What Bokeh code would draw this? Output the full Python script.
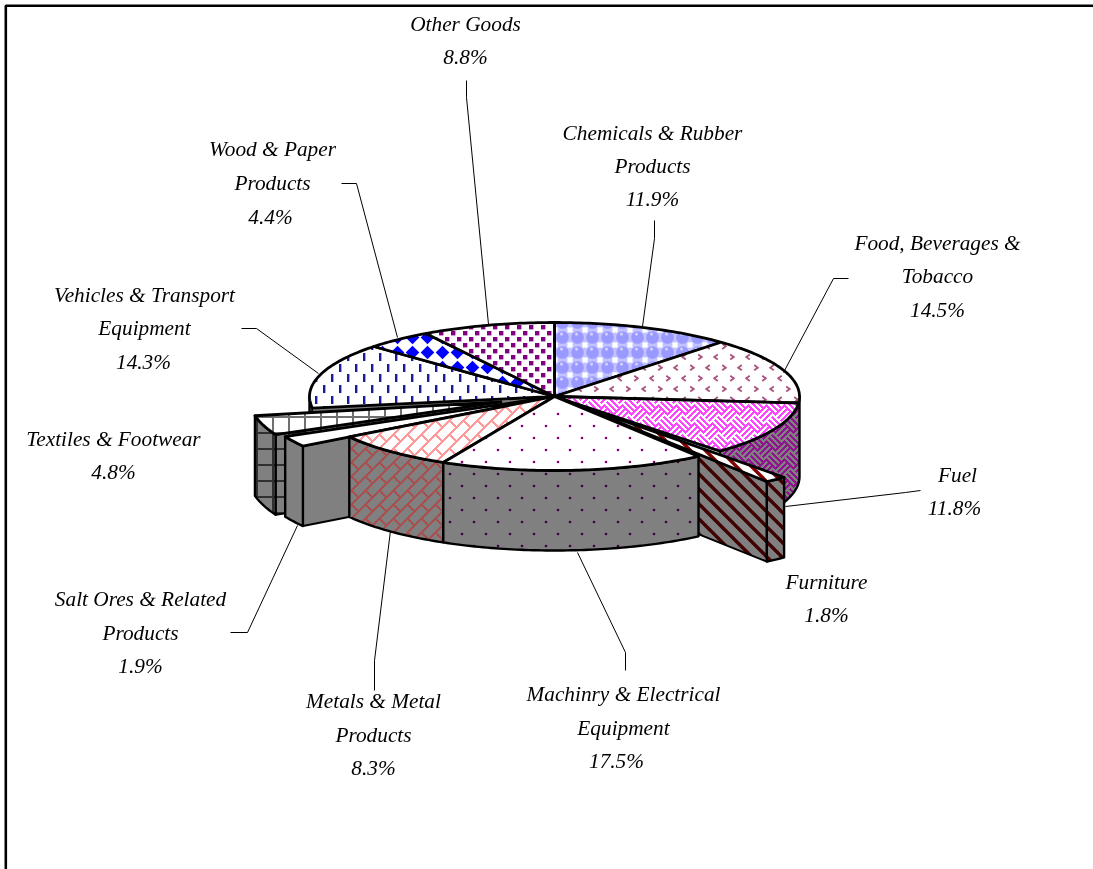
import numpy as np
from bokeh.plotting import figure
from bokeh.models import Range1d, CanvasTexture
from bokeh.core.properties import value
from bokeh.embed import file_html
from bokeh.resources import INLINE

# ---- data ----
categories = ["Chemicals & Rubber Products", "Food, Beverages & Tobacco", "Fuel", "Furniture",
              "Machinry & Electrical Equipment", "Metals & Metal Products",
              "Salt Ores & Related Products", "Textiles & Footwear",
              "Vehicles & Transport Equipment", "Wood & Paper Products", "Other Goods"]
shares = [11.9, 14.5, 11.8, 1.8, 17.5, 8.3, 1.9, 4.8, 14.3, 4.4, 8.8]

# ---- layout ----
W, H = 1093, 869
CX, CY, RX, RY, DEPTH = 554.0, 396.0, 245.0, 74.0, 80.0
GRAY = "#808080"

label_lines = [
    ("Other Goods", 465, 23), ("8.8%", 465, 56),
    ("Chemicals & Rubber", 652, 132), ("Products", 652, 165), ("11.9%", 652, 198),
    ("Food, Beverages &", 937, 242), ("Tobacco", 937, 275), ("14.5%", 937, 309),
    ("Fuel", 957, 474), ("11.8%", 954, 507),
    ("Furniture", 826, 581), ("1.8%", 826, 614),
    ("Machinry & Electrical", 623, 693), ("Equipment", 623, 727), ("17.5%", 616, 760),
    ("Metals & Metal", 373, 700), ("Products", 373, 734), ("8.3%", 373, 767),
    ("Salt Ores & Related", 140, 598), ("Products", 140, 632), ("1.9%", 140, 665),
    ("Textiles & Footwear", 113, 438), ("4.8%", 113, 471),
    ("Vehicles & Transport", 144, 294), ("Equipment", 144, 327), ("14.3%", 143, 361),
    ("Wood & Paper", 272, 148), ("Products", 272, 182), ("4.4%", 270, 216),
]
leaders = [
    ([466, 466, 488], [80, 97, 324]),
    ([654, 654, 642], [220, 238, 326]),
    ([848, 833, 783], [278, 278, 372]),
    ([920, 905, 785], [490, 492, 506]),
    ([230, 247, 297], [632, 632, 525]),
    ([374, 374, 390], [690, 660, 530]),
    ([625, 625, 577], [670, 652, 552]),
    ([241, 256, 318], [328, 328, 373]),
    ([341, 356, 397], [183, 183, 337]),
]

# ---- hatch tiles ----
T_BUBBLE = """
const s=scale; ctx.fillStyle=color; ctx.globalAlpha=0.6; ctx.fillRect(0,0,s,s); ctx.globalAlpha=1;
ctx.fillStyle='#fff';
for (const [x,y] of [[0,0],[s,0],[0,s],[s,s]]) ctx.fillRect(x-2.6,y-2.6,5.2,5.2);
ctx.fillStyle=color; ctx.beginPath(); ctx.arc(s/2,s/2,6.3,0,2*Math.PI); ctx.fill();
ctx.fillStyle='#fff'; ctx.globalAlpha=0.55; ctx.beginPath(); ctx.arc(s/2-1,s/2-3.4,1.6,0,2*Math.PI); ctx.fill();
"""
T_CHEVRON = """
ctx.strokeStyle=color; ctx.lineWidth=1.8;
for (let r=0;r<6;r++){ const y=5+r*64/6;
  for (let c=0;c<4;c++){ const x=(r%2?8:0)+4+16*c; const d=c%2?1:-1;
    ctx.beginPath(); ctx.moveTo(x-d*1.8,y-2.6); ctx.lineTo(x+d*1.8,y); ctx.lineTo(x-d*1.8,y+2.6); ctx.stroke(); } }
"""
T_WEAVE = """
ctx.fillStyle=color; const s=scale;
for (let x=0;x<s;x++) for (let y=0;y<s;y++){ const u=x+y+s, v=x-y+s;
  const i=Math.floor(u/18), j=Math.floor(v/18);
  const on=((i+j)%2==0)?(u%6<3):(v%6<3);
  if(on) ctx.fillRect(x,y,1,1); }
"""
T_STRIPE = """
const s=scale; ctx.strokeStyle=color; ctx.lineWidth=3.4;
for (const o of [-s,0,s]){ ctx.beginPath(); ctx.moveTo(o-2,-2); ctx.lineTo(o+s+2,s+2); ctx.stroke(); }
"""
T_DOT = """
const s=scale; ctx.fillStyle=color;
ctx.beginPath(); ctx.arc(s/4,s/4,1.3,0,2*Math.PI); ctx.fill();
ctx.beginPath(); ctx.arc(3*s/4,3*s/4,1.3,0,2*Math.PI); ctx.fill();
"""
T_BRICK = """
ctx.fillStyle=color; const s=scale;
for (let x=0;x<s;x++) for (let y=0;y<s;y++){ const u=x+y+s, v=x-y+s;
  const k=Math.floor(u/14);
  const on=(u%14<3)||((v+14*(k%2))%28<3);
  if(on) ctx.fillRect(x,y,1,1); }
"""
T_GRID = """
const s=scale; ctx.fillStyle=color; ctx.fillRect(0,0,2,s); ctx.fillRect(0,0,s,2);
"""
T_DASH = """
ctx.fillStyle=color;
for (let r=0;r<6;r++) for (let c=0;c<4;c++) ctx.fillRect((r%2?8:0)+3+16*c, Math.round(1+r*64/6), 2.4, 8);
"""
T_DIAMOND = """
const s=scale; ctx.fillStyle=color; ctx.beginPath();
ctx.moveTo(s/2,s/2-6.8); ctx.lineTo(s/2+6.8,s/2); ctx.lineTo(s/2,s/2+6.8); ctx.lineTo(s/2-6.8,s/2); ctx.closePath(); ctx.fill();
"""
T_SQUARE = """
ctx.fillStyle=color;
for (let a=0;a<2;a++) for (let b=0;b<2;b++){ ctx.fillRect(1+12*a,1+12*b,4.4,4.4); ctx.fillRect(7+12*a,7+12*b,4.4,4.4); }
"""

# tile code, tile size, colour on the top face, colour on the side
hatch = {
    "Chemicals & Rubber Products": (T_BUBBLE, 15, "#9999FF", "#4C4C80"),
    "Food, Beverages & Tobacco": (T_CHEVRON, 64, "#A85480", "#602A48"),
    "Fuel": (T_WEAVE, 36, "#FF44FF", "#8F128F"),
    "Furniture": (T_STRIPE, 15, "#800000", "#400000"),
    "Machinry & Electrical Equipment": (T_DOT, 24, "#800080", "#400040"),
    "Metals & Metal Products": (T_BRICK, 28, "#FF9999", "#A85050"),
    "Salt Ores & Related Products": None,
    "Textiles & Footwear": (T_GRID, 16, "#707070", "#303030"),
    "Vehicles & Transport Equipment": (T_DASH, 64, "#1A1A99", "#000060"),
    "Wood & Paper Products": (T_DIAMOND, 15, "#0000FF", "#000080"),
    "Other Goods": (T_SQUARE, 24, "#800080", "#400040"),
}

# outer radius factor, apex shift, angular span actually drawn for pulled-out slices
pulled = {
    "Furniture": dict(k=1.44, a=0.02, span=(139.4, 143.0)),
    "Salt Ores & Related Products": dict(k=1.226, a=0.0, span=None),
    "Textiles & Footwear": dict(k=1.25, a=0.23, span=(245.6, 258.0)),
}

edges = np.cumsum([0.0] + shares) / sum(shares) * 360.0
spans = {c: (edges[i], edges[i + 1]) for i, c in enumerate(categories)}


def pt(t, k=1.0):
    r = np.radians(t)
    return CX + k * RX * np.sin(r), CY - k * RY * np.cos(r)


def arc(t0, t1, k=1.0):
    ts = np.linspace(t0, t1, max(3, int(abs(t1 - t0)) + 2))
    return pt(ts, k)


p = figure(width=W, height=H, output_backend="svg", toolbar_location=None,
           x_range=Range1d(0, W), y_range=Range1d(H, 0), min_border=0,
           outline_line_color=None, background_fill_color="white",
           border_fill_color="white",
           styles={"position": "fixed", "left": "0px", "top": "0px"})
p.axis.visible = False
p.grid.visible = False


def face(xs, ys, cat=None, side=False, lw=2.8):
    kw = dict(fill_color=GRAY if side else "white", line_color="black",
              line_width=lw, line_join="round")
    spec = hatch.get(cat)
    if spec is not None:
        code, size, top_c, side_c = spec
        # the tile's own canvas is sized here, from the tile size of the table above
        full = f"scale={size}; ctx.canvas.width=scale; ctx.canvas.height=scale;\n" + code
        kw.update(hatch_pattern="tile",
                  hatch_extra={"tile": CanvasTexture(code=full)},
                  hatch_scale=size, hatch_color=side_c if side else top_c)
    p.patch([float(v) for v in xs], [float(v) for v in ys], **kw)


def top(cat, apex=(CX, CY), k=1.0, span=None):
    t0, t1 = span or spans[cat]
    x, y = arc(t0, t1, k)
    face(np.r_[apex[0], x], np.r_[apex[1], y], cat)


def rim(cat, t0, t1, k=1.0):
    x, y = arc(t0, t1, k)
    face(np.r_[x, x[::-1]], np.r_[y, (y + DEPTH)[::-1]], cat, side=True, lw=2.4)


def wall(cat, apex, t, k):
    x, y = pt(t, k)
    face([x, apex[0], apex[0], x], [y, apex[1], apex[1] + DEPTH, y + DEPTH], cat, side=True, lw=2)


# back part of the body
rim("Fuel", 90.0, spans["Fuel"][1])
rim("Vehicles & Transport Equipment", spans["Vehicles & Transport Equipment"][0], 270.0)
vx, vy = pt(spans["Vehicles & Transport Equipment"][0])
face([CX, vx, vx, CX], [CY, vy, vy + DEPTH, CY + DEPTH], side=True, lw=1)

for c in ["Chemicals & Rubber Products", "Food, Beverages & Tobacco", "Fuel",
          "Vehicles & Transport Equipment", "Wood & Paper Products", "Other Goods"]:
    top(c)


def exploded(cat):
    d = pulled[cat]
    t0, t1 = d["span"] or spans[cat]
    tm = (t0 + t1) / 2
    ax, ay = pt(tm, d["a"]) if d["a"] else (CX, CY)
    return d, t0, t1, (ax, ay)


# textiles, then salt
d, t0, t1, ap = exploded("Textiles & Footwear")
wall("Textiles & Footwear", ap, t0, d["k"])
rim("Textiles & Footwear", t0, t1, d["k"])
top("Textiles & Footwear", ap, d["k"], (t0, t1))

d, t0, t1, ap = exploded("Salt Ores & Related Products")
wall("Salt Ores & Related Products", ap, t0, d["k"])
rim("Salt Ores & Related Products", t0, t1, d["k"])
top("Salt Ores & Related Products", ap, d["k"], (t0, t1))

# furniture
d, t0, t1, ap = exploded("Furniture")
wall("Furniture", ap, t1, d["k"])
rim("Furniture", t0, t1, d["k"])
top("Furniture", ap, d["k"], (t0, t1))

# front of the body
for c in ["Metals & Metal Products", "Machinry & Electrical Equipment"]:
    rim(c, *spans[c])
for c in ["Metals & Metal Products", "Machinry & Electrical Equipment"]:
    top(c)

# leaders
for xs, ys in leaders:
    p.line(xs, ys, line_color="black", line_width=1)

# frame of the picture
p.line([5.3, 5.3, W], [H, 5.3, 5.3], line_color="black", line_width=2.6)

p.text([l[1] for l in label_lines], [l[2] for l in label_lines], text=[l[0] for l in label_lines],
       text_font=value("Liberation Serif"), text_font_style="italic", text_font_size="21.3px",
       text_color="black", text_align="center", text_baseline="middle")

open("out.html", "w").write(file_html(p, INLINE))
